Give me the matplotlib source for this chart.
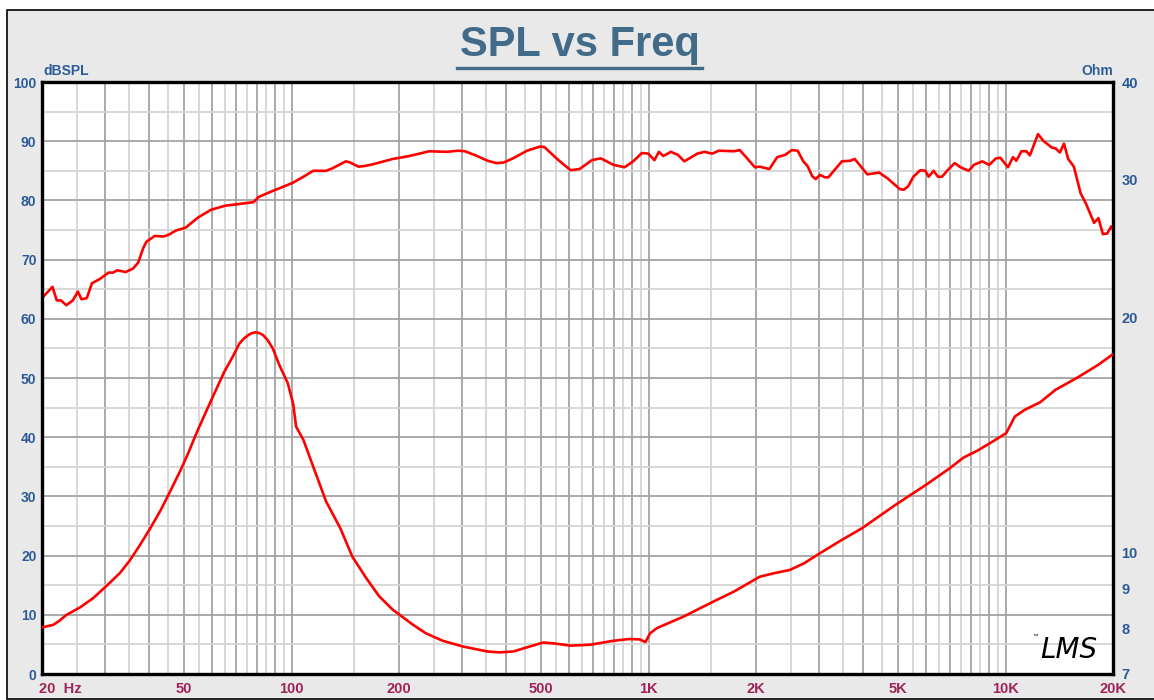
import matplotlib
matplotlib.use("Agg")
import matplotlib.pyplot as plt
from matplotlib.patches import Rectangle
from matplotlib.lines import Line2D
from matplotlib.ticker import FixedLocator, FuncFormatter, NullFormatter

plt.rcParams["font.family"] = ["Liberation Sans", "DejaVu Sans"]

# SPL response (Hz, dB)
spl_freq = [20, 21.4, 22, 22.6, 23.4, 24.4, 25.2, 25.8, 26.7, 27.6,
            29.0, 30.7, 31.6, 32.5, 34.3, 36.0, 37.2, 38.4, 39.2, 41.4,
            43.8, 45.3, 47.4, 50.5, 54.7, 59.4, 65.1, 71.5, 78.2, 81.0,
            88.6, 95.6, 101, 108, 115, 125, 130, 142, 146, 154,
            160, 169, 192, 201, 214, 243, 272, 293, 306, 328,
            354, 375, 393, 417, 457, 497, 511, 557, 605, 641,
            694, 735, 798, 857, 906, 958, 998, 1039, 1069, 1100,
            1155, 1208, 1260, 1370, 1433, 1508, 1574, 1733, 1801, 1889,
            1985, 2048, 2180, 2293, 2415, 2520, 2616, 2713, 2789, 2874,
            2938, 3022, 3122, 3190, 3480, 3676, 3780, 4101, 4427, 4677,
            5060, 5190, 5340, 5520, 5770, 5960, 6090, 6290, 6470, 6640,
            6860, 7200, 7480, 7890, 8150, 8610, 9000, 9400, 9670, 10160,
            10490, 10720, 11080, 11440, 11700, 12330, 12790, 13500, 13800, 14200,
            14580, 14980, 15540, 16230, 16790, 17700, 18200, 18740, 19260, 19770,
            20000]
spl_db = [63.5, 65.4, 63.1, 63.1, 62.3, 63.1, 64.6, 63.3, 63.5, 66.0,
          66.7, 67.8, 67.8, 68.2, 67.9, 68.5, 69.5, 71.9, 73.0, 74.0,
          73.9, 74.2, 74.9, 75.4, 77.1, 78.4, 79.1, 79.4, 79.7, 80.6,
          81.6, 82.4, 83.0, 84.0, 85.0, 85.0, 85.4, 86.6, 86.4, 85.7,
          85.8, 86.1, 87.0, 87.2, 87.5, 88.3, 88.2, 88.4, 88.3, 87.6,
          86.7, 86.3, 86.4, 87.1, 88.4, 89.1, 89.0, 86.9, 85.1, 85.3,
          86.8, 87.1, 86.0, 85.6, 86.6, 88.0, 87.9, 86.8, 88.2, 87.5,
          88.2, 87.7, 86.6, 87.9, 88.2, 87.9, 88.4, 88.3, 88.5, 87.1,
          85.6, 85.7, 85.3, 87.3, 87.7, 88.5, 88.4, 86.6, 85.8, 84.1,
          83.6, 84.3, 83.9, 83.9, 86.6, 86.7, 87.0, 84.4, 84.7, 83.7,
          81.9, 81.8, 82.4, 84.0, 85.1, 85.0, 84.0, 85.0, 84.0, 84.0,
          85.0, 86.3, 85.6, 85.0, 86.0, 86.6, 86.0, 87.1, 87.2, 85.6,
          87.3, 86.7, 88.3, 88.3, 87.6, 91.2, 90.0, 88.9, 88.8, 88.1,
          89.6, 87.0, 85.7, 81.2, 79.5, 76.2, 77.0, 74.3, 74.4, 75.6,
          75.1]

# impedance curve (Hz, ohm)
imp_freq = [20, 21.5, 22.4, 23.4, 25.6, 27.8, 30.3, 33.1, 35.3, 37.6,
            40.2, 43.0, 45.9, 48.9, 51.1, 54.4, 57.9, 61.4, 64.8, 68.4,
            71.5, 73.6, 75.7, 77.5, 79.4, 81.3, 83.2, 85.8, 88.6, 92.4,
            97.6, 101, 103, 108, 115, 125, 137, 148, 162, 176,
            192, 201, 219, 238, 265, 302, 354, 384, 418, 456,
            507, 543, 605, 686, 798, 884, 946, 980, 1010, 1054,
            1254, 1524, 1733, 2048, 2250, 2490, 2730, 2990, 3480, 3960,
            4920, 5990, 6980, 7630, 8340, 9110, 10050, 10160, 10620, 11330,
            12500, 13800, 15920, 18200, 20000]
imp_ohm = [8.03, 8.09, 8.19, 8.33, 8.52, 8.75, 9.07, 9.43, 9.79, 10.23,
           10.75, 11.34, 12.03, 12.76, 13.34, 14.29, 15.23, 16.15, 17.04, 17.81,
           18.53, 18.80, 18.99, 19.10, 19.14, 19.10, 18.99, 18.70, 18.26, 17.39,
           16.48, 15.53, 14.50, 13.94, 12.89, 11.63, 10.75, 9.89, 9.28, 8.80,
           8.46, 8.33, 8.09, 7.89, 7.72, 7.59, 7.48, 7.46, 7.48, 7.57,
           7.68, 7.66, 7.61, 7.63, 7.72, 7.76, 7.75, 7.69, 7.89, 8.01,
           8.29, 8.67, 8.92, 9.32, 9.42, 9.51, 9.70, 9.96, 10.39, 10.75,
           11.52, 12.22, 12.83, 13.24, 13.51, 13.84, 14.23, 14.37, 14.94, 15.24,
           15.58, 16.16, 16.76, 17.40, 17.95]

x_labels = {50: "50", 100: "100", 200: "200", 500: "500", 1000: "1K",
            2000: "2K", 5000: "5K", 10000: "10K", 20000: "20K"}
ohm_ticks = [7, 8, 9, 10, 20, 30, 40]

BLUE = "#2d5b98"
MAROON = "#a0245a"
TITLE = "#416b88"
RED = "#ff0000"

W, H = 1154, 700
fig = plt.figure(figsize=(W / 100, H / 100), dpi=100)
fig.patch.set_facecolor("white")
fig.patches.append(Rectangle((7 / W, 1 / H), 1.2, (H - 11) / H, transform=fig.transFigure,
                             facecolor="#e9e9e9", edgecolor="black", lw=1.2, zorder=-10))

ax = fig.add_axes([42 / W, 26 / H, 1071 / W, 592 / H])
ax.set_facecolor("white")
ax.set_xscale("log")
ax.set_xlim(20, 20000)
ax.set_ylim(0, 100)

dark = [m * 10 ** e for e in range(1, 5) for m in range(1, 10) if 20 <= m * 10 ** e <= 20000]
light = [(m + 0.5) * 10 ** e for e in range(1, 4) for m in range(1, 10) if 20 < (m + 0.5) * 10 ** e < 20000]
ax.xaxis.set_major_locator(FixedLocator(dark))
ax.xaxis.set_minor_locator(FixedLocator(light))
ax.xaxis.set_major_formatter(FuncFormatter(lambda v, p: x_labels.get(int(round(v)), "")))
ax.xaxis.set_minor_formatter(NullFormatter())
ax.yaxis.set_major_locator(FixedLocator(range(0, 101, 10)))
ax.yaxis.set_minor_locator(FixedLocator(range(5, 100, 10)))
ax.grid(which="major", color="#a3a3a3", lw=1.3, zorder=0)
ax.grid(which="minor", color="#d4d4d4", lw=1.3, zorder=0)
ax.set_axisbelow(True)
ax.tick_params(which="both", length=0)
ax.tick_params(axis="x", pad=6, labelsize=10.5, labelcolor=MAROON)
ax.tick_params(axis="y", pad=4, labelsize=10, labelcolor=BLUE)
for lab in ax.get_xticklabels() + ax.get_yticklabels():
    lab.set_fontweight("bold")
for s in ax.spines.values():
    s.set_linewidth(2.4)
    s.set_color("black")
    s.set_zorder(10)

ax.plot(spl_freq, spl_db, color=RED, lw=1.9, zorder=5)

ax2 = ax.twinx()
ax2.set_yscale("log")
ax2.set_ylim(7, 40)
ax2.yaxis.set_major_locator(FixedLocator(ohm_ticks))
ax2.yaxis.set_minor_locator(FixedLocator([]))
ax2.yaxis.set_major_formatter(FuncFormatter(lambda v, p: f"{v:g}"))
ax2.yaxis.set_minor_formatter(NullFormatter())
ax2.tick_params(which="both", length=0, pad=6, labelsize=10.5, labelcolor=BLUE)
for lab in ax2.get_yticklabels():
    lab.set_fontweight("bold")
for s in ax2.spines.values():
    s.set_visible(False)
ax2.plot(imp_freq, imp_ohm, color=RED, lw=1.9, zorder=5)

# "20  Hz" label at the left end of the frequency axis
ax.annotate("20  Hz", xy=(0, 0), xycoords="axes fraction", xytext=(-2, -11),
            textcoords="offset points", ha="left", va="center",
            color=MAROON, fontsize=10.5, fontweight="bold")
ax.annotate("dBSPL", xy=(0, 1), xycoords="axes fraction", xytext=(1, 3),
            textcoords="offset points", ha="left", va="bottom",
            color=BLUE, fontsize=10, fontweight="bold")
ax.annotate("Ohm", xy=(1, 1), xycoords="axes fraction", xytext=(0, 3),
            textcoords="offset points", ha="right", va="bottom",
            color=BLUE, fontsize=10, fontweight="bold")

# LMS logo
ax.annotate("LMS", xy=(1, 0), xycoords="axes fraction", xytext=(-11, 7),
            textcoords="offset points", ha="right", va="bottom",
            fontsize=20, style="italic", family="DejaVu Sans", color="black")
ax.annotate("\u2122", xy=(1, 0), xycoords="axes fraction", xytext=(-54, 25),
            textcoords="offset points", ha="right", va="bottom",
            fontsize=4, color="black")

# title with underline
fig.text(580 / W, 1 - 45 / H, "SPL vs Freq", ha="center", va="center",
         fontsize=30, fontweight="bold", color=TITLE)
fig.lines.append(Line2D([457 / W, 702 / W], [1 - 68 / H, 1 - 68 / H],
                        transform=fig.transFigure, color=TITLE, lw=2.4))

fig.savefig("out.png", dpi=100, facecolor=fig.get_facecolor())
